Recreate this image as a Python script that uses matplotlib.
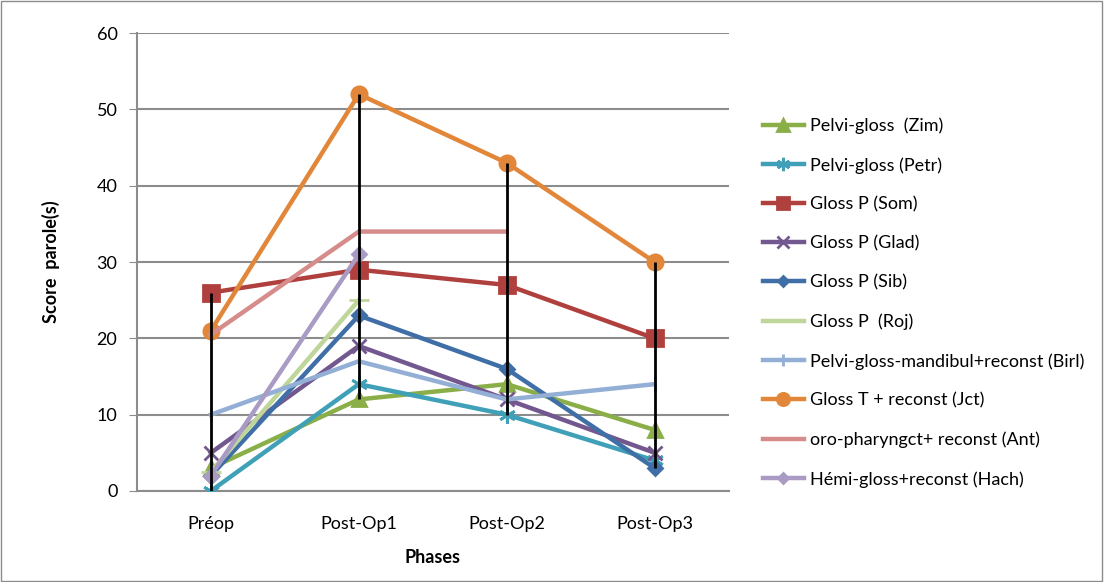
import numpy as np
import matplotlib.pyplot as plt
from matplotlib.patches import Rectangle

plt.rcParams['font.family'] = ['Lato', 'DejaVu Sans']

phases = ['Préop', 'Post-Op1', 'Post-Op2', 'Post-Op3']
nan = np.nan

zim = [3, 12, 14, 8]
petr = [0, 14, 10, 4]
som = [26, 29, 27, 20]
glad = [5, 19, 12, 5]
sib = [2, 23, 16, 3]
roj = [2.5, 25, nan, nan]
birl = [10, 17, 12, 14]
jct = [21, 52, 43, 30]
ant = [20.5, 34, 34, nan]
hach = [2, 31, nan, nan]

# label, values, colour, marker, marker size
series = [
    ('Pelvi-gloss  (Zim)', zim, '#8AAE48', '^', 10),
    ('Pelvi-gloss (Petr)', petr, '#3FA0B8', (6, 2, 0), 12),
    ('Gloss P (Som)', som, '#B0403D', 's', 11),
    ('Gloss P (Glad)', glad, '#73578F', 'x', 10),
    ('Gloss P (Sib)', sib, '#3F6FA6', 'D', 7),
    ('Gloss P  (Roj)', roj, '#BED69A', '_', 14),
    ('Pelvi-gloss-mandibul+reconst (Birl)', birl, '#93AFD6', '|', 10),
    ('Gloss T + reconst (Jct)', jct, '#E2873A', 'o', 11),
    ('oro-pharyngct+ reconst (Ant)', ant, '#D58C8B', None, 0),
    ('Hémi-gloss+reconst (Hach)', hach, '#AA9BC4', 'D', 7),
]

fig = plt.figure(figsize=(11.04, 5.82), dpi=100)
ax = fig.add_axes([0.124, 0.1564, 0.536, 0.7866])
x = np.arange(len(phases))

# high-low lines
allv = np.array([s[1] for s in series], dtype=float)
ax.vlines(x, np.nanmin(allv, axis=0), np.nanmax(allv, axis=0), color='black', lw=2, zorder=5)

for label, vals, col, mk, ms in series:
    ax.plot(x, vals, color=col, lw=3.2, marker=mk, markersize=ms, mew=2,
            mfc=col, mec=col, label=label, zorder=3)

ax.set_xlim(-0.5, 3.5)
ax.set_ylim(0, 60)
ax.set_yticks(range(0, 61, 10))
ax.set_xticks(x)
ax.set_xticklabels(phases)
ax.yaxis.grid(True, color='#8C8C8C', lw=1.5)
ax.set_axisbelow(True)
for s in ['top', 'right']:
    ax.spines[s].set_visible(False)
ax.spines['left'].set_color('#8C8C8C')
ax.spines['bottom'].set_color('#8C8C8C')
ax.spines['left'].set_linewidth(1.5)
ax.spines['bottom'].set_linewidth(1.5)
ax.tick_params(axis='y', length=6, color='#8C8C8C', labelsize=13, pad=8)
ax.tick_params(axis='x', length=0, labelsize=13, pad=18)
ax.set_ylabel('Score  parole(s)', fontsize=13, fontweight='bold', labelpad=26)
ax.set_xlabel('Phases', fontsize=13, fontweight='bold', labelpad=12)

fig.legend(loc='upper left', bbox_to_anchor=(0.676, 0.826), frameon=False,
           fontsize=13, handlelength=2.3, labelspacing=1.27, handletextpad=0.35,
           markerscale=0.8)

fig.patches.append(Rectangle((0.001, 0.002), 0.997, 0.996, transform=fig.transFigure,
                             fill=False, ec='#8C8C8C', lw=1))

fig.savefig('out.png', dpi=100)
